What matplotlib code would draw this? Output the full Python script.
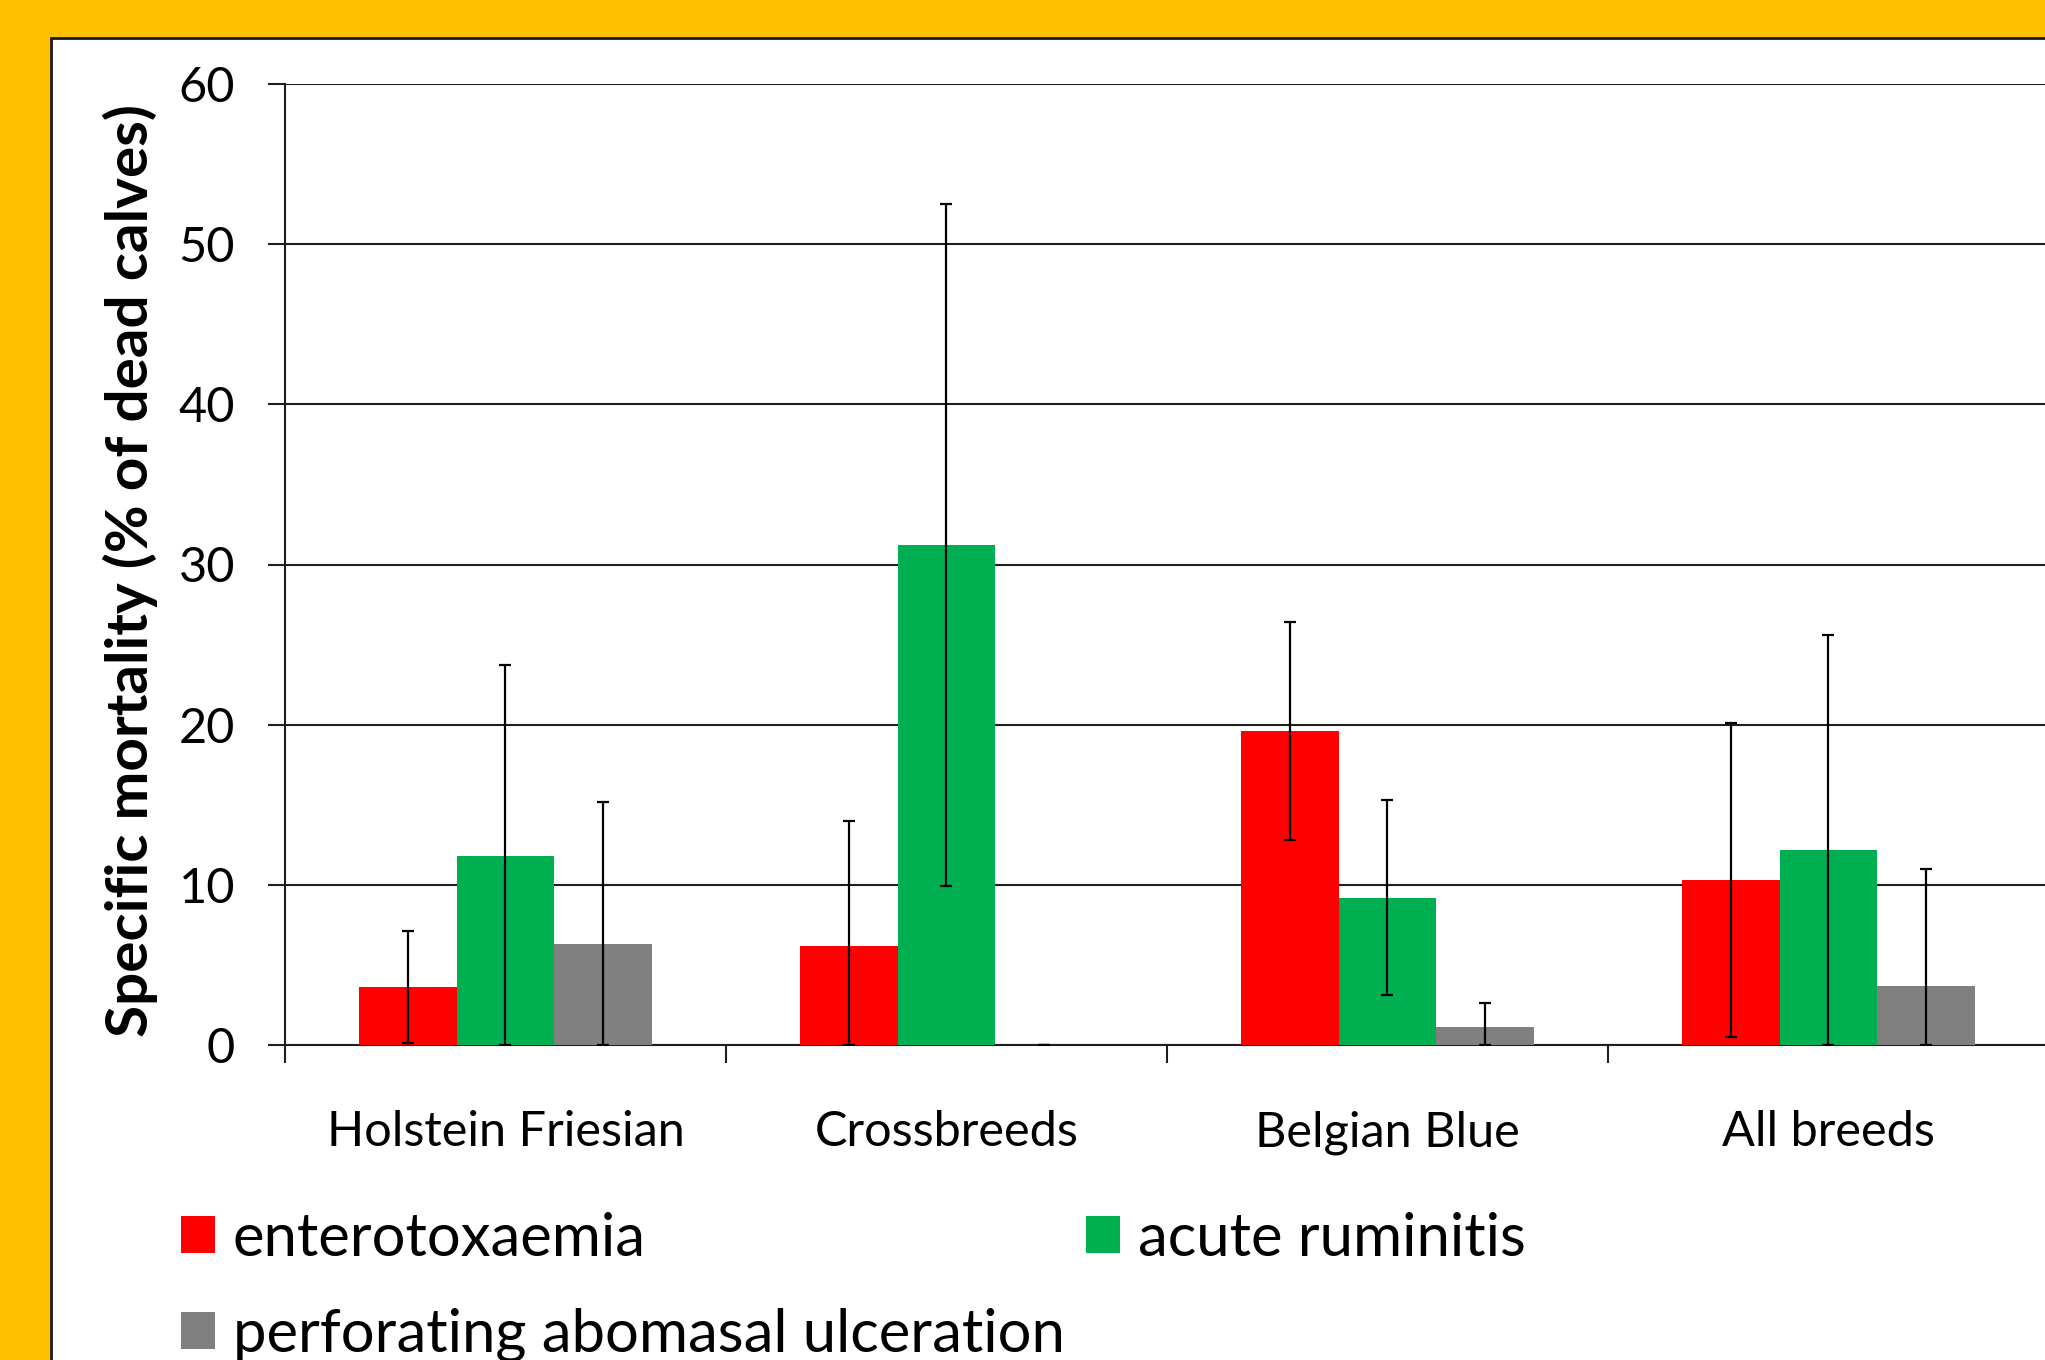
import matplotlib
matplotlib.use("Agg")
import matplotlib.pyplot as plt
from matplotlib.patches import Rectangle
import numpy as np

# ---- data ----
categories = ["Holstein Friesian", "Crossbreeds", "Belgian Blue", "All breeds"]
series_names = ["enterotoxaemia", "acute ruminitis", "perforating abomasal ulceration"]
enterotoxaemia = [3.6, 6.2, 19.6, 10.3]
enterotoxaemia_err = [3.5, 7.8, 6.8, 9.8]
acute_ruminitis = [11.8, 31.2, 9.2, 12.2]
acute_ruminitis_err = [11.9, 21.3, 6.1, 13.4]
abomasal_ulceration = [6.3, 0.0, 1.1, 3.7]
abomasal_ulceration_err = [8.9, 0.0, 1.5, 7.3]
y_ticks = [0, 10, 20, 30, 40, 50, 60]
y_label = "Specific mortality (% of dead calves)"

colors = ["#FF0000", "#00B050", "#808080"]
FONT = "Lato"
plt.rcParams["font.family"] = [FONT, "DejaVu Sans"]

W, H = 2045, 1360
fig = plt.figure(figsize=(W / 100, H / 100), dpi=100)
fig.patch.set_facecolor("#FFC000")

# white panel with black border
panel = Rectangle((51 / W, -0.05), 1.2, 1 - 38 / H + 0.05, transform=fig.transFigure,
                  facecolor="white", edgecolor="#1a1a1a", linewidth=2.0, zorder=-10)
fig.patches.append(panel)

ax = fig.add_axes([285 / W, 1 - 1045 / H, 1764 / W, (1045 - 84) / H])
ax.set_zorder(2)
ax.set_facecolor("none")

x = np.arange(len(categories))
bw = 0.222
values = [enterotoxaemia, acute_ruminitis, abomasal_ulceration]
errs = [enterotoxaemia_err, acute_ruminitis_err, abomasal_ulceration_err]
handles = []
for i, (vals, er, c, name) in enumerate(zip(values, errs, colors, series_names)):
    pos = x + (i - 1) * bw
    b = ax.bar(pos, vals, width=bw, color=c, edgecolor="none", zorder=3, label=name)
    handles.append(b)
    v = np.array(vals)
    e = np.array(er)
    lower = np.minimum(e, v)
    ax.errorbar(pos, v, yerr=[lower, e], fmt="none", ecolor="black",
                elinewidth=1.6, capsize=4.5, capthick=1.6, zorder=4)

ax.set_xlim(-0.5, 3.5)
ax.set_ylim(0, 60)
ax.set_yticks(y_ticks)
ax.set_yticklabels([str(t) for t in y_ticks])
ax.yaxis.grid(True, color="#1e1e1e", linewidth=1.5, zorder=1)
ax.set_axisbelow(True)

ax.set_xticks(x)
ax.set_xticklabels(categories)
ax.set_xticks(np.arange(-0.5, 4.0, 1.0), minor=True)
ax.tick_params(axis="x", which="major", length=0, pad=47, labelsize=35)
ax.tick_params(axis="x", which="minor", length=13, width=1.5, direction="out", color="#1e1e1e")
ax.tick_params(axis="y", length=12, width=1.5, direction="out", pad=24, labelsize=35, color="#1e1e1e")

for s in ["top", "right"]:
    ax.spines[s].set_visible(False)
ax.spines["left"].set_linewidth(1.5)
ax.spines["left"].set_color("#1e1e1e")
ax.spines["bottom"].set_linewidth(1.5)
ax.spines["bottom"].set_color("#1e1e1e")

fig.text(130 / W, 1 - 571 / H, y_label, rotation=90, ha="center", va="center",
         fontsize=42, fontweight="bold")

leg = fig.legend([handles[0], handles[2], handles[1]],
                 [series_names[0], series_names[2], series_names[1]],
                 ncol=2, loc="upper left", bbox_to_anchor=(181 / W, 1 - 1212 / H),
                 frameon=False, fontsize=43, handlelength=0.57, handleheight=0.58,
                 handletextpad=0.3, columnspacing=0.35, labelspacing=0.69,
                 borderpad=0, borderaxespad=0)

fig.savefig("out.png", dpi=100, facecolor=fig.get_facecolor())
